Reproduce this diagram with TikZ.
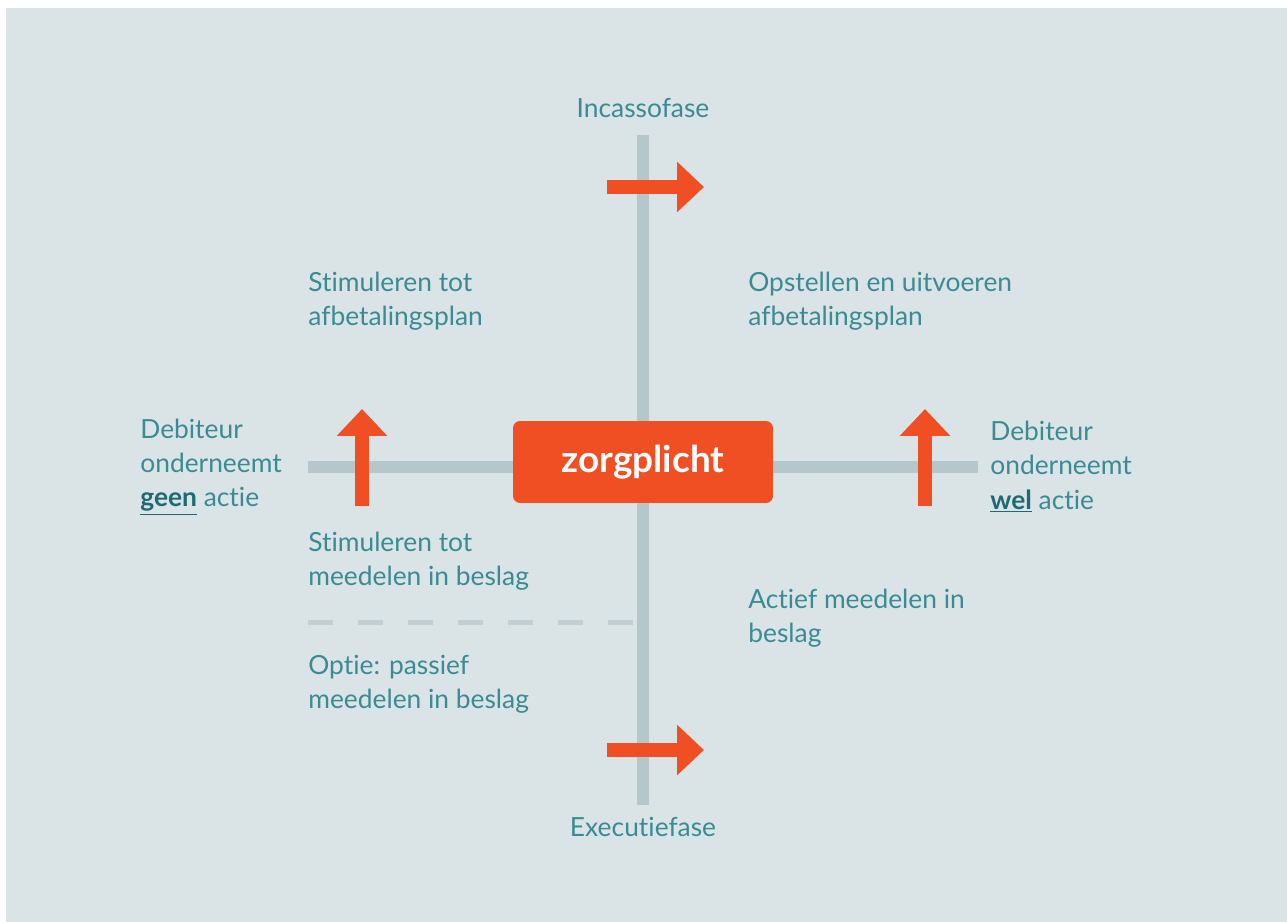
\documentclass[tikz,border=0pt]{standalone}
\usepackage{fontspec}
\setmainfont{Lato}[Ligatures={NoCommon,NoContextual}]
\usetikzlibrary{arrows.meta}
\definecolor{achtergrond}{HTML}{DAE3E6}
\definecolor{as}{HTML}{B6C7CC}
\definecolor{streep}{HTML}{C3CED2}
\definecolor{oranje}{HTML}{F04E23}
\definecolor{tekst}{HTML}{3A8B93}
\definecolor{donker}{HTML}{1F6A72}
\tikzset{
  tekstblok/.style={anchor=west, inner sep=0pt, align=left, text=tekst, font=\fontsize{15}{19.5}\selectfont},
  fase/.style={inner sep=0pt, text=tekst, font=\fontsize{15}{19.5}\selectfont},
  aslijn/.style={draw=as, line width=0.24cm},
  pijl/.style={draw=oranje, line width=0.28cm, -{Triangle[length=0.54cm, width=0.98cm]}, fill=oranje},
}
\begin{document}
\begin{tikzpicture}[x=0.02cm, y=-0.02cm]
\useasboundingbox (0,0) rectangle (1287,922);
\fill[white] (0,0) rectangle (1287,922);
\fill[achtergrond] (6,8) rectangle (1287,922);
% assen
\coordinate (boven) at (643,135);
\coordinate (onder) at (643,805);
\coordinate (links) at (308,467);
\coordinate (rechts) at (978,467);
\draw[aslijn] (boven) -- (onder);
\draw[aslijn] (links) -- (rechts);
\coordinate (streepL) at (308,622);
\coordinate (streepR) at (640,622);
\draw[draw=streep, line width=0.1cm, dash pattern=on 0.5cm off 0.5cm] (streepL) -- (streepR);
% midden
\node[fill=oranje, rounded corners=0.14cm, minimum width=5.2cm, minimum height=1.64cm, text=white, font=\fontsize{21}{24}\selectfont\bfseries] (zorg) at (643,462) {zorgplicht};
% pijlen
\coordinate (p1a) at (607,187); \coordinate (p1b) at (704,187);
\coordinate (p2a) at (607,750); \coordinate (p2b) at (704,750);
\coordinate (p3a) at (362,506); \coordinate (p3b) at (362,409);
\coordinate (p4a) at (925,506); \coordinate (p4b) at (925,409);
\draw[pijl] (p1a) -- (p1b);
\draw[pijl] (p2a) -- (p2b);
\draw[pijl] (p3a) -- (p3b);
\draw[pijl] (p4a) -- (p4b);
% teksten
\node[fase] (incasso) at (643,108) {Incassofase};
\node[fase] (executie) at (643,827) {Executiefase};
\node[tekstblok] (stimA) at (308,301) {Stimuleren tot\\afbetalingsplan};
\node[tekstblok] (opst) at (748,301) {Opstellen en uitvoeren\\afbetalingsplan};
\node[tekstblok] (geen) at (140,467) {Debiteur\\onderneemt\\\textcolor{donker}{\underline{\textbf{geen}}} actie};
\node[tekstblok] (wel) at (990,467) {Debiteur\\onderneemt\\\textcolor{donker}{\underline{\textbf{wel}}} actie};
\node[tekstblok] (stimB) at (308,561) {Stimuleren tot\\meedelen in beslag};
\node[tekstblok] (actief) at (748,618) {Actief meedelen in\\beslag};
\node[tekstblok] (optie) at (308,684) {Optie: passief\\meedelen in beslag};
\end{tikzpicture}
\end{document}
